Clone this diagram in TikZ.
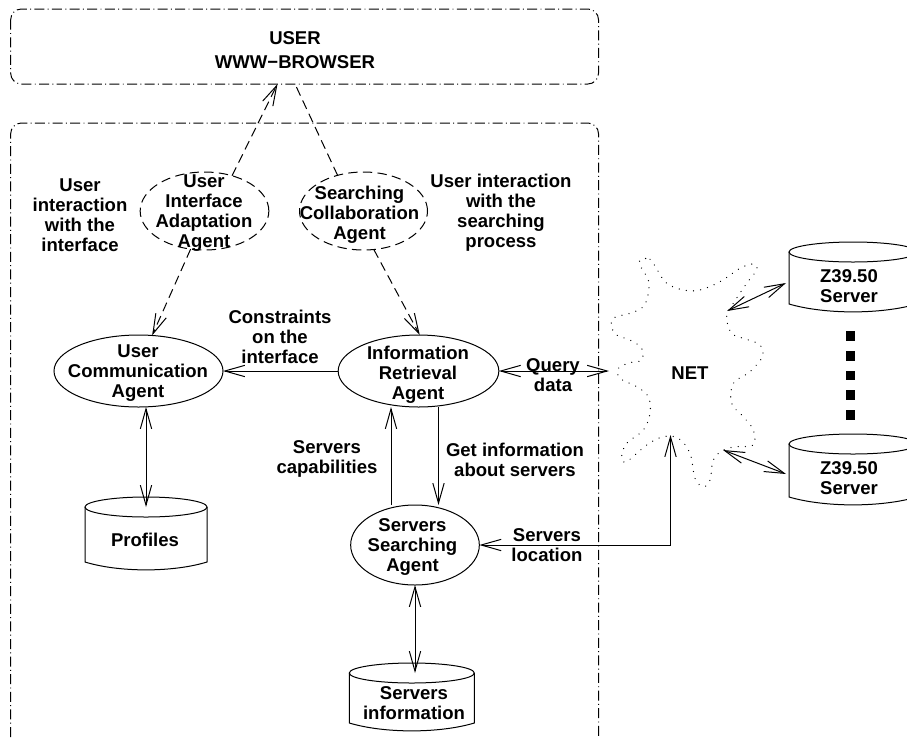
\documentclass[tikz,border=0pt]{standalone}
\usepackage{fontspec}
\setmainfont{Liberation Sans}
\usetikzlibrary{arrows.meta,shapes.geometric}
\tikzset{
  x=0.75pt,y=-0.75pt,
  base/.style={line width=0.75pt,black},
  barb/.tip={Straight Barb[length=15pt,width=8.5pt,line width=0.75pt]},
  agent/.style={base,draw,ellipse,inner sep=0pt,outer sep=0pt,fill=none},
  softagent/.style={agent,dash pattern=on 7pt off 4pt},
  txt/.style={align=center,font=\fontsize{13.9}{15}\selectfont\bfseries,inner sep=0pt},
  boxline/.style={base,dash pattern=on 7.5pt off 2.5pt on 0.7pt off 2.5pt,rounded corners=8pt},
  dashline/.style={base,dash pattern=on 7pt off 4pt},
  link/.style={base},
  marker/.style={fill=black,draw=none,minimum size=6.8pt,inner sep=0pt,outer sep=0pt}
}
\newcommand{\dbcyl}[5]{% x left, width, y top centre, y side bottom, name
  \draw[base] (#1+#2/2,#3) ellipse [x radius=#2/2,y radius=10];
  \draw[base] (#1,#3) -- (#1,#4) .. controls (#1+#2*0.28,#4+10.5) and (#1+#2*0.72,#4+10.5) .. (#1+#2,#4) -- (#1+#2,#3);
  \coordinate (#5) at (#1+#2/2,#3);
}
\begin{document}
\begin{tikzpicture}
\clip (0,0) rectangle (907,740);
% frames
\draw[boxline] (10.7,9) rectangle (598.5,84);
\draw[boxline] (10.7,737) -- (10.7,123) -- (598.5,123) -- (598.5,737);
\coordinate (topA) at (277.5,84);
\coordinate (topB) at (295,84);
% agents
\node[softagent,minimum width=96.5pt,minimum height=58.5pt] (ui) at (204.5,211) {};
\node[softagent,minimum width=96pt,minimum height=58.5pt] (sc) at (363.5,211) {};
\node[agent,minimum width=126.75pt,minimum height=54pt] (uca) at (138.5,371) {};
\node[agent,minimum width=120.5pt,minimum height=54pt] (ira) at (418.5,371) {};
\node[agent,minimum width=96.5pt,minimum height=60pt] (ssa) at (415,545) {};
% databases
\dbcyl{85}{122}{507}{562}{prof}
\dbcyl{349.3}{125}{673}{723}{sinfo}
\dbcyl{789}{128}{252}{304}{zA}
\dbcyl{789}{128}{444}{497}{zB}
\foreach \n/\y in {a/336,b/356,c/375.5,d/395,e/415}{
  \node[marker] (dot\n) at (850.5,\y) {};
}
% cloud
\begin{scope}[shift={(600,240)},x=0.25pt,y=-0.25pt]
\draw[black,line width=1pt,line cap=round,dash pattern=on 0.01pt off 5.4pt]
 plot[smooth cycle,tension=0.6] coordinates {(120,60)(150,58)(172,90)(200,130)(250,150)(300,150)(360,125)(420,85)(460,72)(470,90)(440,130)(400,190)(380,230)(395,280)(440,298)(480,315)(487,350)(450,395)(400,430)(395,490)(430,530)(460,570)(460,615)(410,620)(370,630)(340,660)(330,720)(310,740)(285,715)(270,640)(235,595)(190,590)(140,615)(80,665)(65,650)(80,610)(130,570)(150,520)(145,470)(110,440)(60,415)(55,385)(90,368)(125,360)(125,325)(90,300)(50,285)(33,255)(45,232)(90,220)(130,200)(145,160)(145,120)(125,85)};
\end{scope}
\coordinate (netW) at (609,371);
\coordinate (netS) at (670.5,435);
\coordinate (netA) at (727,311);
\coordinate (netB) at (723,450);
\coordinate (zAw) at (786,283);
\coordinate (zBw) at (786,474);
% labels
\node[txt] (t1) at (295,50) {USER\\[3pt]WWW−BROWSER};
\node[txt] (t2) at (80,215) {User\\interaction\\with the\\interface};
\node[txt] (t3) at (204,213) {User\\Interface\\Adaptation\\Agent};
\node[txt] (t4) at (359.5,215) {Searching\\Collaboration\\Agent};
\node[txt] (t5) at (501,213) {User interaction\\with the\\searching\\process};
\node[txt] (t6) at (280,336.5) {Constraints\\on the\\interface};
\node[txt] (t7) at (138,373) {User\\Communication\\Agent};
\node[txt] (t8) at (418,375) {Information\\Retrieval\\Agent};
\node[txt] (t9) at (553,375) {Query\\data};
\node[txt] (t10) at (327,459) {Servers\\capabilities};
\node[txt] (t11) at (515,460) {Get information\\about servers};
\node[txt] (t12) at (412.5,546.5) {Servers\\Searching\\Agent};
\node[txt] (t13) at (547,545) {Servers\\location};
\node[txt] (t14) at (145,540) {Profiles};
\node[txt] (t15) at (414,703) {Servers\\information};
\node[txt] (t16) at (690,373) {NET};
\node[txt] (t17) at (849,286) {Z39.50\\Server};
\node[txt] (t18) at (849,478) {Z39.50\\Server};
% connectors
\draw[dashline,-{barb}] (ui.52) -- (topA);
\draw[dashline] (sc.126) -- (topB);
\draw[dashline,-{barb}] (ui.250) -- (uca.69);
\draw[dashline,-{barb}] (sc.285) -- (ira.88);
\draw[link,-{barb}] (ira.west) -- (uca.east);
\draw[link,{barb}-{barb}] (ira.east) -- (netW);
\draw[link,-{barb}] (ssa.north -| 391,0) -- (ira.south -| 391,0);
\draw[link,-{barb}] (ira.south -| 438.5,0) -- (ssa.north -| 438.5,0);
\draw[link,{barb}-{barb}] (ssa.east) -- (netS |- ssa.east) -- (netS);
\draw[link,{barb}-{barb}] (ssa.south) -- (ssa.south |- sinfo);
\draw[link,{barb}-{barb}] (uca.south -| prof) -- (prof);
\draw[link,{barb}-{barb}] (netA) -- (zAw);
\draw[link,{barb}-{barb}] (netB) -- (zBw);
\end{tikzpicture}
\end{document}
